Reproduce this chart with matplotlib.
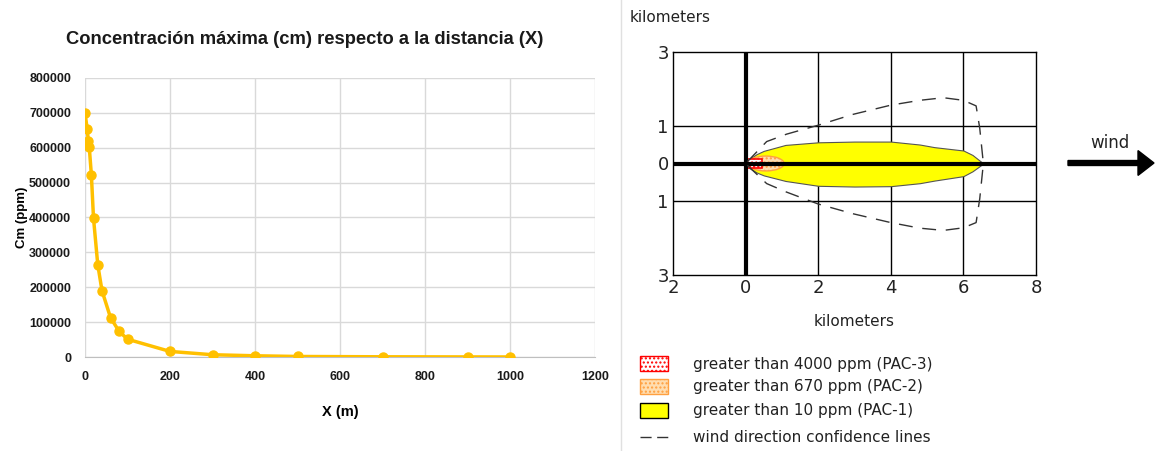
import numpy as np
import matplotlib.pyplot as plt
from matplotlib.patches import Rectangle, Ellipse, FancyArrow
from matplotlib.lines import Line2D
from matplotlib import font_manager

# ---------------- data: left chart ----------------
dist_m = [0, 5, 8, 10, 15, 20, 30, 40, 60, 80, 100, 200, 300, 400, 500, 700, 900, 1000]
cm_ppm = [700000, 655000, 618000, 602000, 522000, 398000, 265000, 190000, 113000,
          74000, 51000, 16000, 6500, 3500, 1500, 600, 250, 100]

# ---------------- data: right chart (km) ----------------
pac1_x = [0, 0.1, 0.3, 0.5, 1.1, 2.0, 3.0, 4.0, 4.8, 5.2, 6.0, 6.25, 6.55]
pac1_up = [0, 0.12, 0.25, 0.34, 0.50, 0.57, 0.59, 0.59, 0.51, 0.44, 0.35, 0.23, 0]
pac1_lo = [0, 0.12, 0.24, 0.32, 0.47, 0.60, 0.62, 0.61, 0.53, 0.46, 0.34, 0.21, 0]

conf_x = [0.05, 0.58, 1.13, 2.0, 2.95, 4.0, 4.8, 5.45, 6.0, 6.35, 6.45, 6.55]
conf_up = [0.05, 0.59, 0.79, 1.03, 1.32, 1.57, 1.70, 1.77, 1.70, 1.55, 0.95, 0]
conf_lo = [0.05, 0.54, 0.77, 1.09, 1.35, 1.59, 1.74, 1.80, 1.73, 1.59, 0.95, 0]

legend_labels = ["greater than 4000 ppm (PAC-3)", "greater than 670 ppm (PAC-2)",
                 "greater than 10 ppm (PAC-1)", "wind direction confidence lines"]

# Calibri-like bold for the left chart: Liberation Sans is the narrowest installed
bold_fp = font_manager.FontProperties(family=["Liberation Sans", "DejaVu Sans"], weight="bold")

fig = plt.figure(figsize=(11.55, 4.51), dpi=100)
renderer = fig.canvas.get_renderer()


def fit_text(t, target_px):
    t.set_fontsize(12)
    w = t.get_window_extent(renderer).width
    t.set_fontsize(12 * target_px / w)


# ─────────── left chart ───────────
ax = fig.add_axes([85 / 1155, 1 - 357 / 451, 510 / 1155, 279 / 451])
ax.plot(dist_m, cm_ppm, color="#FFC000", lw=2.5, marker="o", ms=6.5, zorder=3)
ax.set_xlim(0, 1200)
ax.set_ylim(0, 800000)
ax.set_xticks(range(0, 1201, 200))
ax.set_yticks(range(0, 800001, 100000))
ax.grid(True, color="#D9D9D9", lw=1)
ax.set_axisbelow(True)
for s in ["top", "right", "left"]:
    ax.spines[s].set_visible(False)
ax.spines["bottom"].set_color("#BFBFBF")
ax.tick_params(length=0, labelcolor="#1a1a1a")
ax.tick_params(axis="y", pad=10)
ax.tick_params(axis="x", pad=10)
for lab in ax.get_xticklabels() + ax.get_yticklabels():
    lab.set_fontproperties(bold_fp)
    lab.set_fontsize(9)

ax.set_xlabel("X (m)", fontproperties=bold_fp, fontsize=10.5)
ax.xaxis.set_label_coords((340 - 85) / 510, -(412 - 357) / 279)
ax.xaxis.label.set_va("center")
ax.set_ylabel("Cm (ppm)", fontproperties=bold_fp, fontsize=9.5)
ax.yaxis.set_label_coords(-(85 - 22) / 510, 0.5)
ax.yaxis.label.set_va("center")
title = fig.text(305 / 1155, 1 - 40 / 451, "Concentración máxima (cm) respecto a la distancia (X)",
                 ha="center", va="center", fontproperties=bold_fp, color="#1a1a1a")
fit_text(title, 477)

# panel separator
fig.add_artist(Line2D([621 / 1155, 621 / 1155], [0, 1], color="#E0E0E0", lw=1))

# ─────────── right chart ───────────
ax2 = fig.add_axes([673 / 1155, 1 - 275 / 451, 363 / 1155, 223 / 451])
ax2.set_xlim(-2, 8)
ax2.set_ylim(-3, 3)
for xv in [2, 4, 6]:
    ax2.axvline(xv, color="black", lw=1, zorder=1)
for yv in [-1, 1]:
    ax2.axhline(yv, color="black", lw=1, zorder=1)

ax2.fill_between(pac1_x, pac1_up, [-v for v in pac1_lo], facecolor="#FFFF00",
                 edgecolor="#555555", lw=0.8, zorder=2)
ax2.add_patch(Ellipse((0.56, 0), 1.0, 0.4, facecolor="#FFDDB0", edgecolor="#FFA040",
                      lw=1, hatch="....", zorder=3))
ax2.add_patch(Rectangle((0.05, -0.11), 0.4, 0.22, facecolor="white", edgecolor="red",
                        lw=1.2, hatch="....", zorder=4))

ax2.axhline(0, color="black", lw=3, zorder=5)
ax2.axvline(0, color="black", lw=3, zorder=5)

ax2.plot(conf_x, conf_up, color="#333333", lw=1, ls=(0, (10, 7)), zorder=6)
ax2.plot(conf_x, [-v for v in conf_lo], color="#333333", lw=1, ls=(0, (10, 7)), zorder=6)

for s in ax2.spines.values():
    s.set_linewidth(1)
ax2.set_xticks([-2, 0, 2, 4, 6, 8])
ax2.set_xticklabels(["2", "0", "2", "4", "6", "8"])
ax2.set_yticks([-3, -1, 0, 1, 3])
ax2.set_yticklabels(["3", "1", "0", "1", "3"])
ax2.tick_params(length=0, labelsize=13, pad=3, labelcolor="#222222")
ax2.set_xlabel("kilometers", fontsize=11, color="#222222", labelpad=12)
fig.text(630 / 1155, 1 - 18 / 451, "kilometers", fontsize=11, color="#222222",
         ha="left", va="center")

fig.text(1110 / 1155, 1 - 143 / 451, "wind", fontsize=12, color="#222222",
         ha="center", va="center")
fig.add_artist(FancyArrow(1068 / 1155, 1 - 163 / 451, 70 / 1155, 0, width=0.011,
                          head_width=0.055, head_length=16 / 1155,
                          length_includes_head=False, color="black",
                          transform=fig.transFigure))

# legend
rows_y = [364, 387, 411, 437]
fig.add_artist(Rectangle((640 / 1155, 1 - 371 / 451), 28 / 1155, 15 / 451, facecolor="white",
                         edgecolor="red", hatch="....", lw=1, transform=fig.transFigure))
fig.add_artist(Rectangle((640 / 1155, 1 - 394 / 451), 28 / 1155, 15 / 451, facecolor="#FFDDB0",
                         edgecolor="#FFA040", hatch="....", lw=1, transform=fig.transFigure))
fig.add_artist(Rectangle((640 / 1155, 1 - 418 / 451), 28 / 1155, 15 / 451, facecolor="#FFFF00",
                         edgecolor="black", lw=1, transform=fig.transFigure))
fig.add_artist(Line2D([640 / 1155, 670 / 1155], [1 - 437 / 451, 1 - 437 / 451], color="#333333",
                      lw=1, ls=(0, (8, 4))))
for yy, lab in zip(rows_y, legend_labels):
    fig.text(693 / 1155, 1 - yy / 451, lab, fontsize=11, color="#222222",
             ha="left", va="center")

fig.savefig("out.png", dpi=100)
